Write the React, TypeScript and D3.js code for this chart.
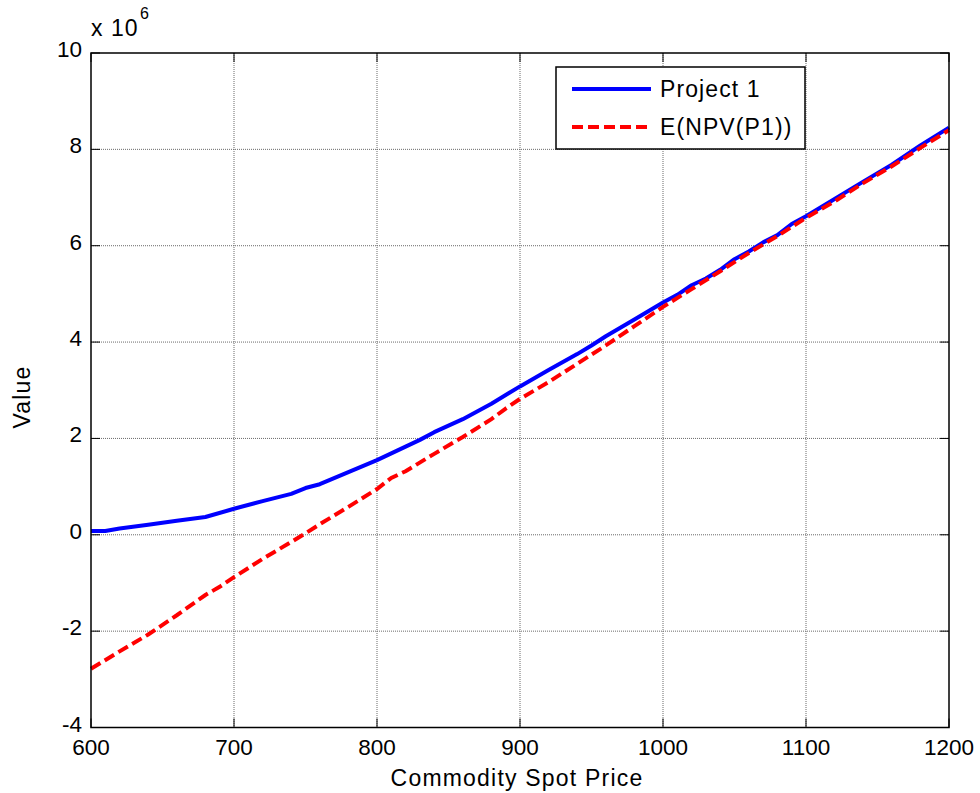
import React from "react";
import * as d3 from "d3";

const priceA = [600, 610, 620, 640, 660, 680, 700, 720, 740, 750, 760, 780, 800, 820, 830, 840, 860, 880, 900, 920, 940, 950, 960, 980, 1000, 1010, 1020, 1030, 1040, 1050, 1060, 1070, 1080, 1090, 1100, 1120, 1140, 1160, 1180, 1200];
const project1 = [0.08, 0.08, 0.13, 0.21, 0.29, 0.37, 0.54, 0.70, 0.85, 0.97, 1.05, 1.30, 1.55, 1.83, 1.97, 2.13, 2.40, 2.72, 3.08, 3.42, 3.75, 3.93, 4.12, 4.47, 4.82, 4.98, 5.18, 5.32, 5.50, 5.72, 5.88, 6.07, 6.22, 6.45, 6.61, 6.97, 7.33, 7.68, 8.08, 8.45];

const priceB = [600, 620, 640, 660, 680, 690, 700, 720, 740, 750, 760, 780, 800, 810, 820, 840, 860, 880, 890, 900, 920, 940, 960, 980, 1000, 1020, 1040, 1060, 1080, 1100, 1120, 1140, 1160, 1180, 1200];
const expNPV = [-2.78, -2.42, -2.07, -1.67, -1.25, -1.08, -0.88, -0.50, -0.15, 0.03, 0.22, 0.58, 0.95, 1.18, 1.32, 1.68, 2.03, 2.40, 2.62, 2.82, 3.17, 3.55, 3.93, 4.33, 4.73, 5.10, 5.47, 5.85, 6.20, 6.58, 6.92, 7.30, 7.65, 8.03, 8.40];

const xTicks = [600, 700, 800, 900, 1000, 1100, 1200];
const yTicks = [-4, -2, 0, 2, 4, 6, 8, 10];
const legendLabels = ["Project 1", "E(NPV(P1))"];

const W = 980;
const H = 793;
const L = 91, R = 949, T = 53, B = 727.5;
const FONT = "Arial, 'Liberation Sans', Helvetica, sans-serif";

export default function App() {
  const x = d3.scaleLinear().domain([600, 1200]).range([L, R]);
  const y = d3.scaleLinear().domain([-4, 10]).range([B, T]);
  const line = d3.line<[number, number]>().x((d) => x(d[0])).y((d) => y(d[1]));
  const blueData: [number, number][] = priceA.map((p, i) => [p, project1[i]]);
  const redData: [number, number][] = priceB.map((p, i) => [p, expNPV[i]]);
  const tl = 9;

  return (
    <svg width={W} height={H} style={{ position: "absolute", left: 0, top: 0, background: "#fff" }} fontFamily={FONT}>
      <rect x={0} y={0} width={W} height={H} fill="#fff" />
      {/* grid */}
      {xTicks.slice(1, -1).map((t) => (
        <line key={"gx" + t} x1={x(t)} x2={x(t)} y1={T} y2={B} stroke="#6a6a6a" strokeWidth={1} strokeDasharray="1,1" />
      ))}
      {yTicks.slice(1, -1).map((t) => (
        <line key={"gy" + t} x1={L} x2={R} y1={y(t)} y2={y(t)} stroke="#6a6a6a" strokeWidth={1} strokeDasharray="1,1" />
      ))}
      {/* data */}
      <path d={line(blueData) || ""} fill="none" stroke="#0000ff" strokeWidth={4} strokeLinejoin="round" />
      <path d={line(redData) || ""} fill="none" stroke="#ff0000" strokeWidth={4} strokeDasharray="11,5" />
      {/* ticks */}
      {xTicks.map((t) => (
        <g key={"tx" + t}>
          <line x1={x(t)} x2={x(t)} y1={B} y2={B - tl} stroke="#000" strokeWidth={1} />
          <line x1={x(t)} x2={x(t)} y1={T} y2={T + tl} stroke="#000" strokeWidth={1} />
          <text x={x(t)} y={755} textAnchor="middle" fontSize={22.5} fill="#000">{t}</text>
        </g>
      ))}
      {yTicks.map((t) => (
        <g key={"ty" + t}>
          <line x1={L} x2={L + tl} y1={y(t)} y2={y(t)} stroke="#000" strokeWidth={1} />
          <line x1={R} x2={R - tl} y1={y(t)} y2={y(t)} stroke="#000" strokeWidth={1} />
          <text x={82} y={y(t) + 4} textAnchor="end" fontSize={22.5} fill="#000">{t}</text>
        </g>
      ))}
      {/* axes box */}
      <rect x={L} y={T} width={R - L} height={B - T} fill="none" stroke="#000" strokeWidth={1.5} />
      {/* exponent */}
      <text x={91} y={36} fontSize={23} fill="#000" letterSpacing={1}>x 10</text>
      <text x={140} y={19} fontSize={16} fill="#000">6</text>
      {/* axis labels */}
      <text x={517} y={786} textAnchor="middle" fontSize={23} fill="#000" letterSpacing={1.2}>Commodity Spot Price</text>
      <text transform="translate(30,397) rotate(-90)" textAnchor="middle" fontSize={23} fill="#000" letterSpacing={1.2}>Value</text>
      {/* legend */}
      <rect x={556} y={67} width={249} height={82} fill="#fff" stroke="#000" strokeWidth={1.5} />
      <line x1={572} x2={651} y1={89} y2={89} stroke="#0000ff" strokeWidth={4} />
      <line x1={572} x2={651} y1={127} y2={127} stroke="#ff0000" strokeWidth={4} strokeDasharray="11,5" />
      <text x={660} y={97} fontSize={23} fill="#000" letterSpacing={1.1}>{legendLabels[0]}</text>
      <text x={660} y={135} fontSize={23} fill="#000" letterSpacing={1.1}>{legendLabels[1]}</text>
    </svg>
  );
}
